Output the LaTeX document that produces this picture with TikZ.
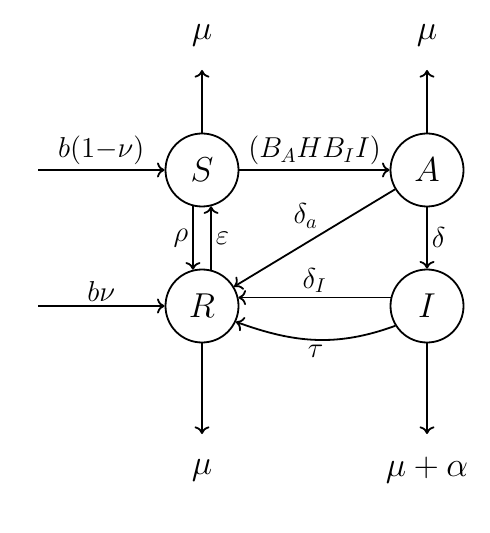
\documentclass[tikz,border=0pt]{standalone}
\usetikzlibrary{arrows.meta}
\begin{document}
\begin{tikzpicture}[x=0.5pt,y=-0.5pt,>={Computer Modern Rightarrow[width=7.5pt,length=3.8pt]},line width=0.9pt,
  state/.style={circle,draw,minimum size=36.5pt,inner sep=0pt,font=\LARGE},
  sink/.style={font=\LARGE,inner sep=1pt},
  lbl/.style={font=\Large,inner sep=2pt}]
\useasboundingbox (0,0) rectangle (490,533);
\node[state] (S) at (202,170) {$S$};
\node[state] (A) at (427,170) {$A$};
\node[state] (R) at (202,306) {$R$};
\node[state] (I) at (427,306) {$I$};
\coordinate (Sin) at (38,170);
\coordinate (Rin) at (38,306);
\coordinate (Sup) at (202,70);
\coordinate (Aup) at (427,70);
\coordinate (Rdn) at (202,434);
\coordinate (Idn) at (427,434);
\node[sink] (muS) at (202,35) {$\mu$};
\node[sink] (muA) at (427,35) {$\mu$};
\node[sink] (muR) at (202,470) {$\mu$};
\node[sink] (muI) at (427,470) {$\mu+\alpha$};
\draw[->] (S) -- (Sup);
\draw[->] (A) -- (Aup);
\draw[->] (R) -- (Rdn);
\draw[->] (I) -- (Idn);
\draw[->] (Sin) -- node[lbl,above] {$b(1{-}\nu)$} (S);
\draw[->] (Rin) -- node[lbl,above] {$b\nu$} (R);
\draw[->] (S) -- node[lbl,above] {$(B_A H B_I I)$} (A);
\draw[->] (S.-104) -- node[lbl,left] {$\rho$} (R.104);
\draw[->] (R.76) -- node[lbl,right] {$\varepsilon$} (S.-76);
\draw[->] (A) -- node[lbl,pos=0.45,above left] {$\delta_a$} (R);
\draw[->] (A) -- node[lbl,right] {$\delta$} (I);
\draw[->] (I.167) -- node[lbl,above] {$\delta_I$} (R.13);
\draw[->] (I.212) to[out=200,in=-20] node[lbl,below] {$\tau$} (R.-25);
\end{tikzpicture}
\end{document}
